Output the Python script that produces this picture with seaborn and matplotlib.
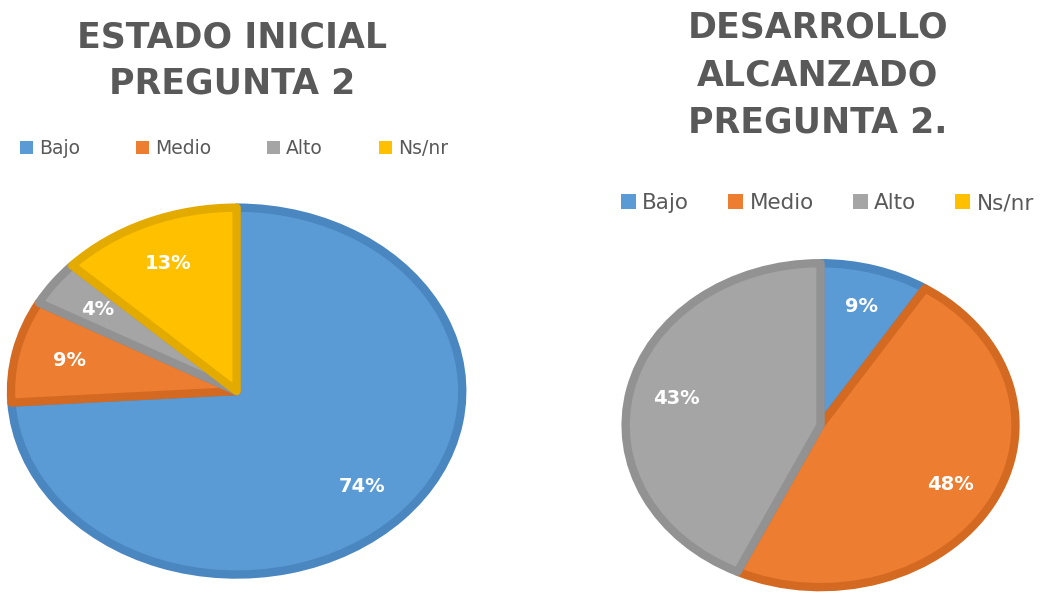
import matplotlib
matplotlib.use("Agg")
import matplotlib.pyplot as plt
from matplotlib.patches import Patch
import seaborn as sns

# data
categorias = ['Bajo', 'Medio', 'Alto', 'Ns/nr']
inicial = [74, 9, 4, 13]
alcanzado = [9, 48, 43, 0]
titulo_inicial = 'ESTADO INICIAL\nPREGUNTA 2'
titulo_alcanzado = 'DESARROLLO\nALCANZADO\nPREGUNTA 2.'

colores = ['#5B9BD5', '#ED7D31', '#A5A5A5', '#FFC000']
bordes = ['#4A86C0', '#D46A22', '#929292', '#E3AA00']

sns.set_theme(style='white')
plt.rcParams['font.family'] = ['DejaVu Sans']

fig = plt.figure(figsize=(10.54, 5.98), dpi=100)


def pastel(ax, valores):
    # slices with value 0 are not drawn, but stay in the legend
    idx = [i for i, v in enumerate(valores) if v > 0]
    vals = [valores[i] for i in idx]
    wedges, textos, pcts = ax.pie(
        vals, colors=[colores[i] for i in idx], startangle=90, counterclock=False,
        autopct=lambda p: f'{p:.0f}%', pctdistance=0.76,
        wedgeprops=dict(linewidth=6, joinstyle='round'),
        textprops=dict(color='white', fontsize=14, fontweight='semibold'))
    for w, i in zip(wedges, idx):
        w.set_edgecolor(bordes[i])
    ax.set_aspect('auto')
    ax.set_xlim(-1.03, 1.03)
    ax.set_ylim(-1.03, 1.03)
    ax.axis('off')


ax1 = fig.add_axes([0.004, 0.03, 0.441, 0.632])
pastel(ax1, inicial)
ax2 = fig.add_axes([0.588, 0.01, 0.381, 0.558])
pastel(ax2, alcanzado)

gris = '#595959'
fig.text(0.22, 0.966, titulo_inicial, ha='center', va='top', fontsize=25,
         fontweight='bold', color=gris, linespacing=1.45)
fig.text(0.776, 0.982, titulo_alcanzado, ha='center', va='top', fontsize=25,
         fontweight='bold', color=gris, linespacing=1.5)

handles = [Patch(facecolor=c, edgecolor='none') for c in colores]
fig.legend(handles, categorias, loc='center', bbox_to_anchor=(0.222, 0.752), ncol=4,
           frameon=False, fontsize=13.5, handlelength=0.7, handleheight=0.7,
           columnspacing=3.0, handletextpad=0.3, labelcolor=gris)
fig.legend(handles, categorias, loc='center', bbox_to_anchor=(0.785, 0.66), ncol=4,
           frameon=False, fontsize=15.5, handlelength=0.7, handleheight=0.7,
           columnspacing=1.8, handletextpad=0.3, labelcolor=gris)

fig.savefig('out.png', dpi=100)
